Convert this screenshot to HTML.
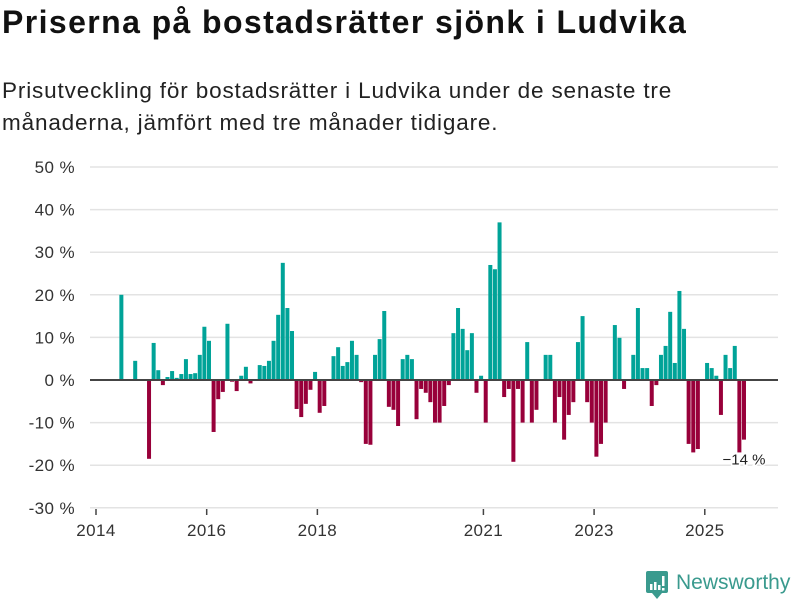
<!DOCTYPE html>
<html><head><meta charset="utf-8"><style>
body{margin:0;background:#fff;font-family:"Liberation Sans","DejaVu Sans",sans-serif;}
#wrap{position:relative;width:800px;height:600px;overflow:hidden;}
h1{position:absolute;left:2px;top:4px;margin:0;font-size:32px;font-weight:bold;color:#111;letter-spacing:1.4px;white-space:nowrap;}
#sub{position:absolute;left:2px;top:75px;margin:0;font-size:22.5px;line-height:32px;color:#222;width:720px;letter-spacing:0.85px;}
svg{position:absolute;left:0;top:0;}
</style></head><body>
<div id="wrap">
<h1>Priserna på bostadsrätter sjönk i Ludvika</h1>
<p id="sub">Prisutveckling för bostadsrätter i Ludvika under de senaste tre<br>månaderna, jämfört med tre månader tidigare.</p>
<svg id="chart" width="800" height="600"></svg>
</div>
<script>
const startYear = 2014;
const values = [null,null,null,null,null,20,null,null,4.5,null,null,
-18.5,8.7,2.3,-1.2,0.7,2.1,0.5,1.4,4.9,1.4,1.6,5.9,12.5,9.2,-12.2,-4.5,-2.8,13.2,-0.4,-2.6,1,3.1,-0.8,null,
3.5,3.3,4.5,9.2,15.3,27.5,16.9,11.5,-6.8,-8.7,-5.6,-2.3,1.9,-7.7,-6.1,null,
5.6,7.7,3.3,4.2,9.2,5.9,-0.5,-15,-15.2,5.9,9.6,16.2,-6.3,-7,-10.8,4.9,5.9,4.9,-9.2,-2.1,-3,-5.2,-10,-10,-6.1,-1.2,
11,16.9,12,7,11,-3,1,-10,27,26,37,-4,-2.1,-19.2,-2.1,-10,8.9,-10,-7,null,
5.9,5.9,-10,-4,-14,-8.2,-5.2,8.9,15,-5.2,-10,-18,-15,-10,null,
12.9,9.9,-2.1,null,5.9,16.9,2.8,2.8,-6.1,-1.2,5.9,8,16,4,20.9,12,-15,-17,-16.2,null,
4,2.8,1,-8.2,5.9,2.8,8,-17,-14];
const yTicks = [-30,-20,-10,0,10,20,30,40,50];
const xTickYears = [2014,2016,2018,2021,2023,2025];
const lastLabel = "−14 %";

const NS="http://www.w3.org/2000/svg";
const svg=document.getElementById('chart');
const y = v => 380 - v*4.26;
const x = m => 96 + m*4.612;
function mk(t,a){const e=document.createElementNS(NS,t);for(const k in a)e.setAttribute(k,a[k]);svg.appendChild(e);return e;}
yTicks.forEach(v=>{
  const g=mk('line',{x1:90,x2:778,y1:y(v),y2:y(v),stroke:'#e3e3e3','stroke-width':1.5});
  
  
  const t=mk('text',{x:75,y:y(v)+6,'text-anchor':'end','font-size':17,fill:'#333','font-family':'Liberation Sans, sans-serif','letter-spacing':'0.4'});
  t.textContent=v+' %';
  
  
});
xTickYears.forEach(yr=>{
  const m=(yr-startYear)*12;
  const tk=mk('line',{x1:x(m),x2:x(m),y1:509,y2:515,stroke:'#444','stroke-width':1.5});
  
  
  const t=mk('text',{x:x(m),y:536,'text-anchor':'middle','font-size':17,fill:'#333','font-family':'Liberation Sans, sans-serif','letter-spacing':'0.4'});
  t.textContent=yr;
  
  
});
values.forEach((v,i)=>{
  if(v===null)return;
  const b=mk('rect',{x:x(i+0.5)-2,width:4,y:Math.min(y(v),y(0)),height:Math.abs(y(v)-y(0)),fill:v>=0?'#00a398':'#98003a'});
  
  
});
const z=mk('line',{x1:90,x2:778,y1:y(0),y2:y(0),stroke:'#444','stroke-width':2});


const li=values.length-1;
const lb=mk('text',{x:x(li+0.5),y:y(values[li])+25,'text-anchor':'middle','font-size':15,fill:'#222','font-family':'Liberation Sans, sans-serif',stroke:'#fff','stroke-width':3,'paint-order':'stroke'});
lb.textContent=lastLabel;


const lg=document.createElementNS(NS,'g');


svg.appendChild(lg);
lg.innerHTML='<rect x="646" y="571" width="22" height="22" rx="2" fill="#3a9a8e"/><path d="M652 593 L657 599 L662 593Z" fill="#3a9a8e"/>'+
'<rect x="650" y="584" width="2.5" height="6" fill="#fff"/><rect x="654" y="582" width="2.5" height="8" fill="#fff"/><rect x="658" y="585" width="2.5" height="5" fill="#fff"/><rect x="662" y="576" width="2.5" height="10" fill="#fff"/><rect x="662" y="588" width="2.5" height="2.5" fill="#fff"/>'+
'<text x="676" y="589" font-size="21" fill="#3a9a8e" font-family="Liberation Sans, sans-serif">Newsworthy</text>';
</script>
</body></html>
